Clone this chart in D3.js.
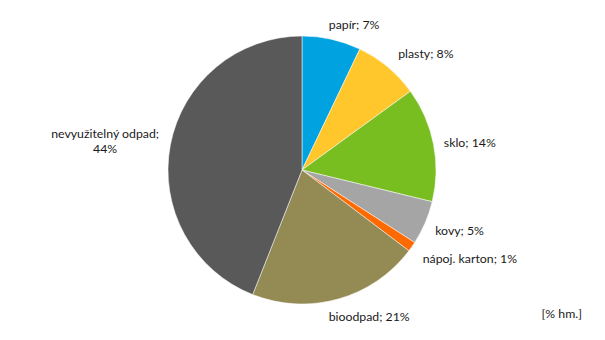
<!DOCTYPE html>
<html>
<head>
<meta charset="utf-8">
<script src="https://cdn.jsdelivr.net/npm/d3@7"></script>
<style>
  body { margin: 0; background: #fff; }
  text { font-family: Lato, "Open Sans", sans-serif; font-size: 12.3px; fill: #1a1a1a; }
</style>
</head>
<body>
<div id="chart"></div>
<script>
  // values (% by weight)
  var categories = ["papír", "plasty", "sklo", "kovy", "nápoj. karton", "bioodpad", "nevyužitelný odpad"];
  var values = [7.1, 7.9, 13.8, 5.3, 1.2, 20.7, 44.0];
  var labelTexts = ["papír; 7%", "plasty; 8%", "sklo; 14%", "kovy; 5%", "nápoj. karton; 1%", "bioodpad; 21%", "nevyužitelný odpad;|44%"];
  var colors = ["#00a2e0", "#ffc72c", "#78be20", "#a5a5a5", "#ff6a00", "#948a54", "#595959"];

  // label placement (shift from slice middle in degrees, distance from centre)
  var labelShift = [7, 7, 2, -2, -7, -9, -2.4];
  var labelDist = [154, 170, 170, 169, 190, 161, 199];

  var width = 605, height = 340;
  var cx = 302, cy = 170, radius = 134;

  var svg = d3.select("#chart").append("svg")
    .attr("width", width)
    .attr("height", height);

  var data = categories.map(function(c, i) {
    return { name: c, value: values[i], label: labelTexts[i], color: colors[i], i: i };
  });

  var pie = d3.pie().sort(null).value(function(d) { return d.value; });
  var arc = d3.arc().innerRadius(0).outerRadius(radius);

  var g = svg.append("g").attr("transform", "translate(" + cx + "," + cy + ")");

  var arcs = pie(data);

  g.selectAll("path")
    .data(arcs)
    .enter().append("path")
    .attr("d", arc)
    .attr("fill", function(d) { return d.data.color; })
    .attr("stroke", "#fff")
    .attr("stroke-width", 0.5);

  var labels = g.selectAll("text.lbl")
    .data(arcs)
    .enter().append("text")
    .attr("class", "lbl")
    .attr("text-anchor", "middle")
    .attr("transform", function(d) {
      var a = (d.startAngle + d.endAngle) / 2 + labelShift[d.data.i] * Math.PI / 180;
      var r = labelDist[d.data.i];
      return "translate(" + (r * Math.sin(a)) + "," + (-r * Math.cos(a)) + ")";
    });

  labels.each(function(d) {
    var lines = d.data.label.split("|");
    var t = d3.select(this);
    var lh = 15;
    var start = -(lines.length - 1) * lh / 2;
    lines.forEach(function(l, k) {
      t.append("tspan")
        .attr("x", 0)
        .attr("y", start + k * lh)
        .attr("dy", "0.35em")
        .text(l);
    });
  });

  svg.append("text")
    .attr("x", 582)
    .attr("y", 318)
    .attr("text-anchor", "end")
    .text("[% hm.]");
</script>
</body>
</html>
